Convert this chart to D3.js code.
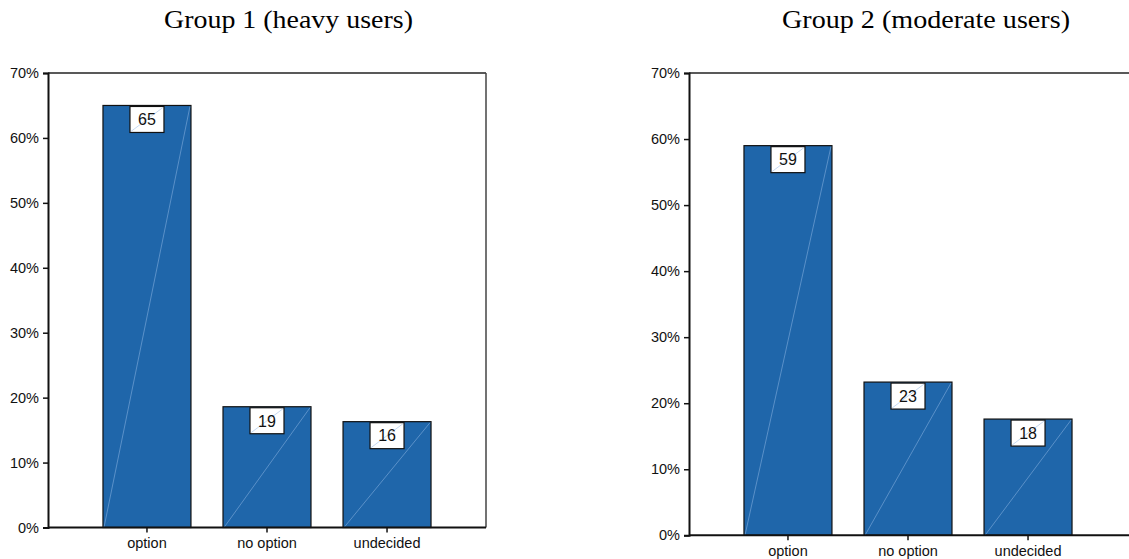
<!DOCTYPE html>
<html>
<head>
<meta charset="utf-8">
<script src="https://cdn.jsdelivr.net/npm/d3@7"></script>
<style>
  html, body { margin: 0; padding: 0; background: #fff; }
  svg { display: block; }
</style>
</head>
<body>
<svg id="chart" width="1129" height="559"></svg>
<script>
// Answer categories shared by both groups
const categories = ["option", "no option", "undecided"];

// Share of respondents per answer (%)
const group1Values = [65.0, 18.6, 16.3];
const group2Values = [59.0, 23.2, 17.6];

const groupTitles = ["Group 1 (heavy users)", "Group 2 (moderate users)"];

// Y axis tick values (%)
const yTicks = [0, 10, 20, 30, 40, 50, 60, 70];

const svg = d3.select("#chart");

const BAR_FILL = "#1f66aa";
const SHEEN = "#9dc0ea";
const SANS = "'Liberation Sans', Arial, sans-serif";

const panels = [
  { title: groupTitles[0], values: group1Values, left: 48, top: 73, bottom: 527.5, frameRight: 486, titleX: 164, titleW: 249 },
  { title: groupTitles[1], values: group2Values, left: 689, top: 73, bottom: 535.3, frameRight: 1140, titleX: 782, titleW: 288 }
];

panels.forEach(p => {
  const g = svg.append("g");

  const x = d3.scaleBand()
    .domain(categories)
    .range([p.left, p.left + 438])
    .paddingInner(0.267)
    .paddingOuter(0.458);

  const y = d3.scaleLinear()
    .domain([0, 70])
    .range([p.bottom, p.top]);

  // Title
  g.append("text")
    .attr("x", p.titleX)
    .attr("y", 28)
    .attr("font-family", "'Liberation Serif', 'Times New Roman', serif")
    .attr("font-size", 24.5)
    .attr("textLength", p.titleW)
    .attr("lengthAdjust", "spacingAndGlyphs")
    .attr("fill", "#000")
    .text(p.title);

  // Frame: top and right edges
  g.append("line")
    .attr("x1", p.left).attr("x2", p.frameRight)
    .attr("y1", p.top).attr("y2", p.top)
    .attr("stroke", "#222").attr("stroke-width", 1.5);
  g.append("line")
    .attr("x1", p.frameRight).attr("x2", p.frameRight)
    .attr("y1", p.top).attr("y2", p.bottom)
    .attr("stroke", "#444").attr("stroke-width", 1.5);

  // Bars
  const data = categories.map((c, i) => ({ cat: c, value: p.values[i] }));

  const bars = g.selectAll("g.bar").data(data).join("g").attr("class", "bar");

  bars.append("rect")
    .attr("x", d => x(d.cat))
    .attr("y", d => y(d.value))
    .attr("width", x.bandwidth())
    .attr("height", d => y(0) - y(d.value))
    .attr("fill", BAR_FILL)
    .attr("stroke", "#111")
    .attr("stroke-width", 1.2);

  // faint diagonal sheen across each bar
  bars.append("line")
    .attr("x1", d => x(d.cat) + 1)
    .attr("y1", y(0))
    .attr("x2", d => x(d.cat) + x.bandwidth() - 1)
    .attr("y2", d => y(d.value) + 1)
    .attr("stroke", SHEEN)
    .attr("stroke-width", 0.6)
    .attr("stroke-opacity", 0.8);

  // Value labels in white boxes
  const boxW = 34, boxH = 26;
  const lab = bars.append("g")
    .attr("transform", d => `translate(${x(d.cat) + x.bandwidth() / 2 - boxW / 2},${y(d.value) + 1})`);

  lab.append("rect")
    .attr("width", boxW)
    .attr("height", boxH)
    .attr("fill", "#fff")
    .attr("stroke", "#111")
    .attr("stroke-width", 1.2);

  lab.append("line")
    .attr("x1", 1).attr("y1", boxH - 1)
    .attr("x2", boxW - 1).attr("y2", 1)
    .attr("stroke", SHEEN)
    .attr("stroke-width", 0.6);

  lab.append("text")
    .attr("x", boxW / 2)
    .attr("y", boxH / 2 + 5.8)
    .attr("text-anchor", "middle")
    .attr("font-family", SANS)
    .attr("font-size", 16)
    .attr("fill", "#111")
    .text(d => Math.round(d.value));

  // Y axis
  const yAxis = g.append("g")
    .attr("transform", `translate(${p.left},0)`)
    .call(d3.axisLeft(y).tickValues(yTicks).tickFormat(d => d + "%").tickSize(5).tickPadding(4));
  yAxis.select(".domain").attr("stroke", "#111").attr("stroke-width", 2);
  yAxis.selectAll(".tick line").attr("stroke", "#111").attr("stroke-width", 1.5);
  yAxis.selectAll(".tick text")
    .attr("font-family", SANS)
    .attr("font-size", 14.5)
    .attr("fill", "#111");

  // X axis
  const xAxis = g.append("g")
    .attr("transform", `translate(0,${p.bottom})`)
    .call(d3.axisBottom(x).tickSize(5).tickSizeOuter(0).tickPadding(5));
  xAxis.select(".domain")
    .attr("d", `M${p.left},0H${p.frameRight}`)
    .attr("stroke", "#111").attr("stroke-width", 2);
  xAxis.selectAll(".tick line").attr("stroke", "#111").attr("stroke-width", 1.5);
  xAxis.selectAll(".tick text")
    .attr("font-family", SANS)
    .attr("font-size", 14.5)
    .attr("fill", "#111");
});
</script>
</body>
</html>
